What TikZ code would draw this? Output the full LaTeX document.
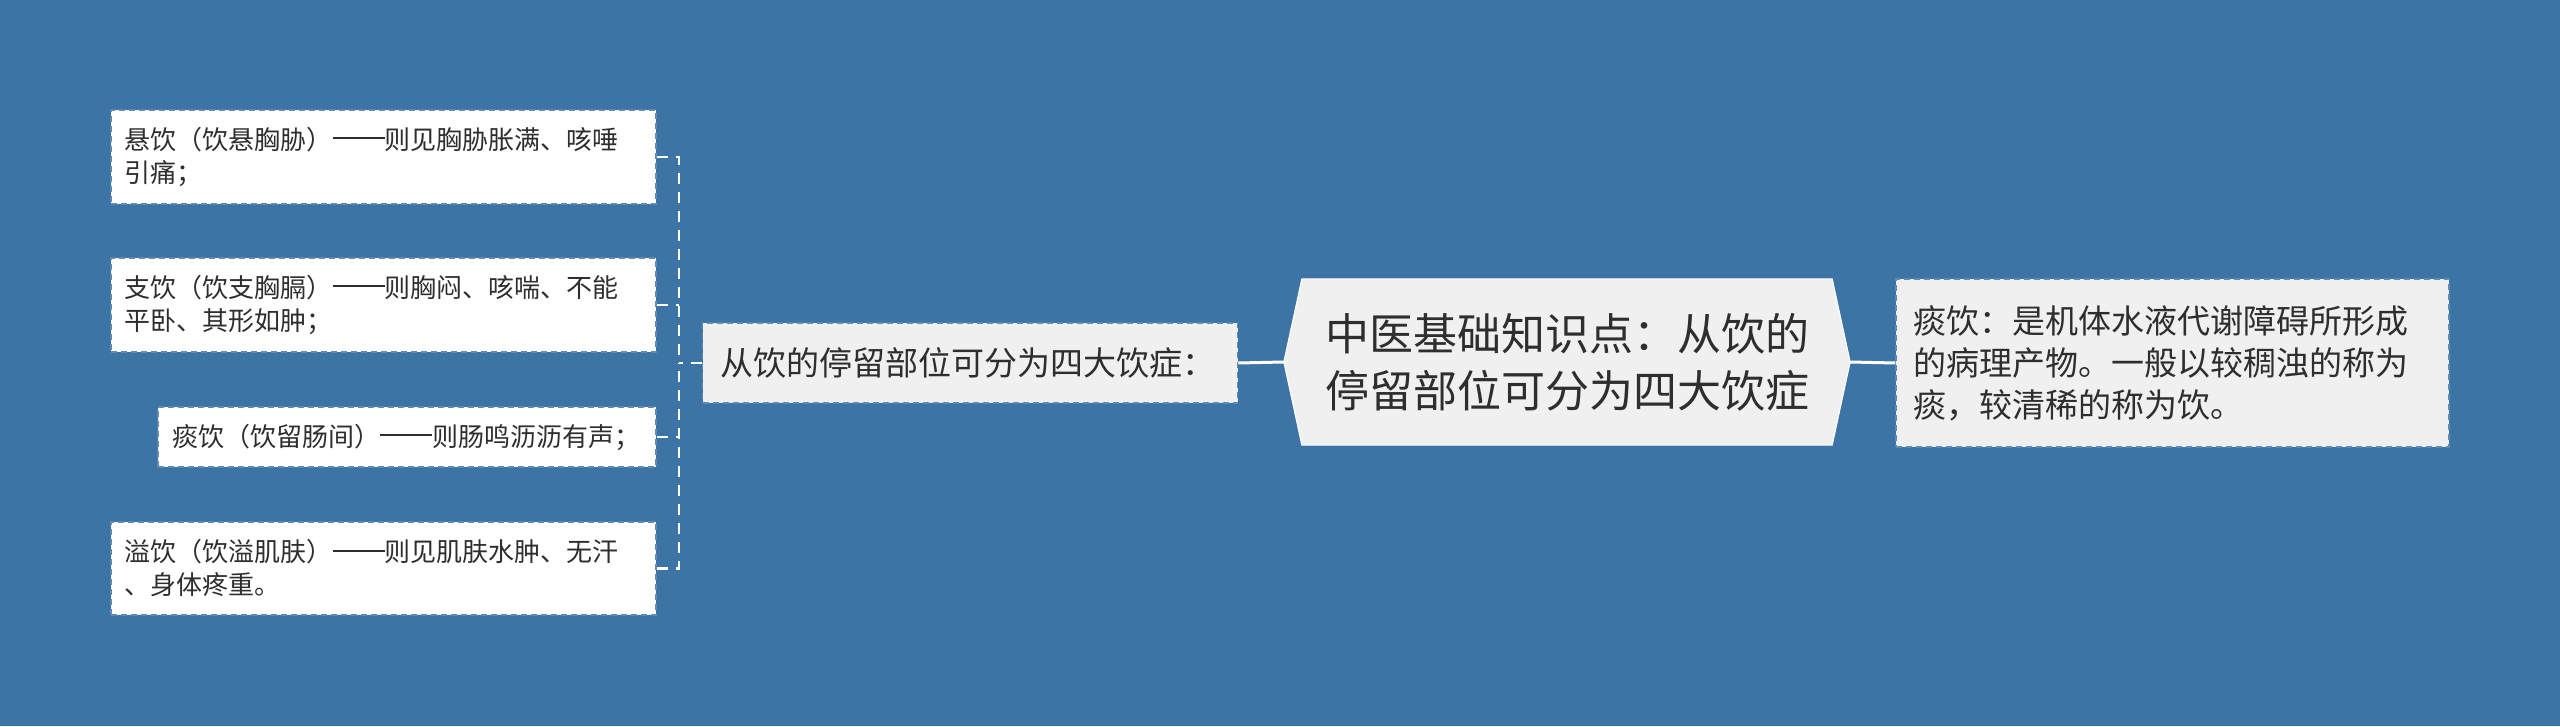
\documentclass[tikz,border=0pt]{standalone}
\usepackage{fontspec}
\setmainfont{Noto Sans CJK SC}
\usetikzlibrary{backgrounds}
\definecolor{bgblue}{HTML}{3D74A6}
\definecolor{leafborder}{HTML}{5F8AB5}
\definecolor{txt}{HTML}{2E2E2E}
\definecolor{lightfill}{HTML}{F0F0F0}
\newcommand\ddash{\rule[0.40em]{2em}{0.075em}}
\tikzset{
  leaf/.style={rectangle, fill=white, draw=leafborder, line width=1.5pt,
    dash pattern=on 6pt off 4pt, inner xsep=14pt, inner ysep=0pt, align=left,
    text=txt, font=\fontsize{26}{33}\selectfont, anchor=center},
  midbox/.style={rectangle, fill=lightfill, draw=leafborder, line width=1.5pt,
    dash pattern=on 6pt off 4pt, inner xsep=18pt, inner ysep=0pt, align=left,
    text=txt, font=\fontsize{33}{42}\selectfont},
  mainbox/.style={rectangle, inner sep=0pt, align=center, text=txt,
    font=\fontsize{44}{57}\selectfont},
  conn/.style={draw=white, line width=3pt},
  dconn/.style={draw=white, line width=2.5pt, dash pattern=on 11pt off 8pt},
}
\begin{document}
\begin{tikzpicture}[x=1pt,y=-1pt]
\begin{pgfonlayer}{background}
\fill[bgblue] (0,0) rectangle (2560,726);
\end{pgfonlayer}
\useasboundingbox (0,0) rectangle (2560,726);

\node[leaf, text width=517pt, minimum height=94pt] (b1) at (383.3,157)
  {悬饮（饮悬胸胁）\ddash 则见胸胁胀满、咳唾\\引痛；};
\node[leaf, text width=517pt, minimum height=94pt] (b2) at (383.3,305)
  {支饮（饮支胸膈）\ddash 则胸闷、咳喘、不能\\平卧、其形如肿；};
\node[leaf, text width=470pt, minimum height=60pt] (b3) at (407,437)
  {痰饮（饮留肠间）\ddash 则肠鸣沥沥有声；};
\node[leaf, text width=517pt, minimum height=93pt] (b4) at (383.3,568.5)
  {溢饮（饮溢肌肤）\ddash 则见肌肤水肿、无汗\\、身体疼重。};

\node[midbox, text width=499pt, minimum height=80pt] (mid) at (970,363)
  {从饮的停留部位可分为四大饮症：};

\node[mainbox, minimum width=566pt, minimum height=166pt] (main) at (1567,362)
  {中医基础知识点：从饮的\\停留部位可分为四大饮症};

\node[midbox, inner xsep=17pt, text width=519pt, minimum height=168pt] (right) at (2172.5,363)
  {痰饮：是机体水液代谢障碍所形成\\的病理产物。一般以较稠浊的称为\\痰，较清稀的称为饮。};

\begin{pgfonlayer}{background}
\fill[lightfill, draw=white, line width=1pt]
  (main.west) -- ([xshift=18pt]main.north west) -- ([xshift=-18pt]main.north east)
  -- (main.east) -- ([xshift=-18pt]main.south east) -- ([xshift=18pt]main.south west) -- cycle;
\end{pgfonlayer}

\coordinate (j) at (679,363);
\begin{pgfonlayer}{background}
\draw[dconn] (mid.west) -- (j);
\draw[dconn] (b1.east) -| (j);
\draw[dconn] (b4.east) -| (j);
\draw[dconn] (b2.east) -- (b2.east -| j);
\draw[dconn] (b3.east) -- (b3.east -| j);
\draw[conn] (mid.east) -- (main.west);
\draw[conn] (main.east) -- (right.west);
\end{pgfonlayer}
\end{tikzpicture}
\end{document}
